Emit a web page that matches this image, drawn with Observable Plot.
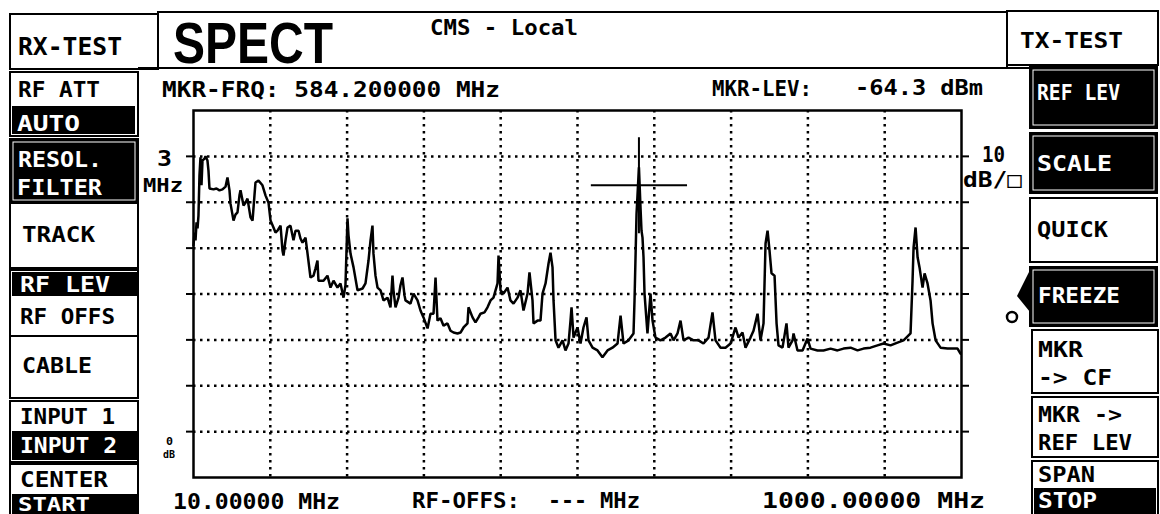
<!DOCTYPE html>
<html><head><meta charset="utf-8">
<script src="https://cdn.jsdelivr.net/npm/d3@7"></script>
<script src="https://cdn.jsdelivr.net/npm/@observablehq/plot@0.6"></script>
<style>html,body{margin:0;padding:0;background:#fff;overflow:hidden}</style>
</head><body><div id="chart"></div>
<script>
// ---- data ----
const freq = [10.0,11.3,12.6,13.9,15.2,16.4,17.7,19.0,20.3,21.6,24.2,25.5,28.0,29.3,30.6,35.8,39.6,43.5,47.4,51.3,53.8,56.4,57.7,61.6,64.1,66.7,69.3,70.6,74.5,77.0,79.6,83.5,86.1,88.6,89.9,93.8,98.9,102.8,106.7,109.3,113.1,115.7,118.3,122.2,124.7,126.0,128.6,131.2,135.0,138.9,141.5,145.4,147.9,150.5,154.4,157.0,160.8,164.7,167.3,169.8,171.1,177.6,182.7,186.6,190.5,195.6,199.5,203.4,205.9,208.5,209.8,212.4,216.3,221.4,227.9,231.7,235.6,238.2,240.7,242.0,244.6,247.2,251.1,254.9,260.1,263.9,266.5,267.8,270.4,274.3,276.8,279.4,282.0,283.3,289.7,293.6,298.8,302.6,306.5,311.7,315.5,319.4,322.0,324.5,328.4,332.3,337.4,341.3,345.2,350.3,354.2,358.1,363.2,364.5,369.7,373.5,377.4,380.0,385.1,389.0,392.9,396.7,401.9,403.2,405.8,409.6,414.8,418.6,422.5,427.7,431.5,435.4,440.6,443.1,447.0,448.3,453.5,457.3,459.9,463.8,467.6,470.2,472.8,474.1,476.7,480.5,485.7,489.5,493.4,496.0,497.3,499.9,505.0,508.9,512.7,516.6,519.2,524.4,530.8,537.2,543.7,550.1,556.6,560.5,564.3,570.8,577.2,578.5,581.1,584.2,586.2,587.5,588.8,590.1,591.4,595.2,599.1,601.7,605.5,612.0,618.5,624.9,628.8,633.9,637.8,641.7,648.1,654.6,661.0,667.4,673.9,679.0,682.9,689.4,695.8,702.3,708.7,712.6,717.7,721.6,728.0,731.9,737.1,740.9,744.8,747.4,750.0,752.5,755.1,759.0,761.6,764.1,769.3,774.4,777.0,782.2,783.5,788.6,795.1,801.5,805.4,814.4,822.1,831.2,840.2,847.9,857.0,866.0,873.7,882.7,891.7,899.5,908.5,917.5,925.3,934.3,936.9,938.2,940.8,943.4,945.9,949.8,952.4,956.2,960.1,962.7,966.6,973.0,982.0,994.9,998.7];
const level = [-77.4,-74.6,-76.3,-72.4,-73.7,-70.9,-62.2,-58.2,-64.3,-58.9,-58.5,-58.0,-58.9,-61.1,-65.0,-65.2,-65.0,-65.4,-65.2,-64.6,-62.6,-65.4,-68.3,-72.0,-70.7,-70.2,-66.5,-65.4,-68.7,-68.1,-67.2,-71.3,-72.0,-66.5,-63.7,-63.3,-64.3,-66.5,-68.1,-72.0,-73.5,-74.6,-74.2,-73.1,-78.5,-79.6,-76.3,-73.5,-73.1,-76.3,-74.2,-74.2,-75.9,-76.8,-75.7,-79.2,-84.4,-84.0,-82.4,-80.7,-85.1,-85.1,-84.0,-86.6,-85.1,-86.6,-85.7,-88.8,-86.1,-71.5,-75.2,-79.2,-82.2,-87.2,-86.8,-85.7,-80.7,-76.3,-73.1,-79.2,-84.0,-86.6,-87.2,-89.4,-88.8,-90.9,-84.0,-87.2,-90.9,-88.8,-86.1,-84.4,-88.3,-89.4,-90.1,-87.9,-89.4,-91.6,-93.1,-95.5,-92.3,-92.3,-84.4,-93.8,-93.3,-94.9,-94.4,-96.0,-96.4,-96.6,-96.4,-95.3,-94.4,-90.9,-93.1,-94.2,-93.1,-92.3,-92.0,-90.9,-89.4,-88.8,-85.7,-79.6,-87.2,-87.9,-86.6,-89.4,-90.1,-88.8,-87.2,-91.6,-87.9,-83.3,-89.4,-94.4,-93.8,-93.8,-87.9,-85.7,-81.4,-79.0,-82.2,-89.4,-98.1,-99.7,-98.1,-100.3,-98.8,-93.8,-90.9,-97.5,-95.3,-98.8,-95.3,-93.1,-98.1,-99.7,-100.3,-101.8,-100.3,-99.7,-98.8,-92.7,-98.8,-98.1,-96.6,-89.4,-70.5,-60.4,-69.1,-74.2,-75.7,-80.0,-87.9,-96.6,-87.9,-93.8,-97.5,-98.1,-97.5,-96.6,-98.1,-96.6,-93.8,-98.1,-97.5,-98.1,-98.1,-98.8,-97.5,-92.0,-98.1,-99.7,-99.7,-98.8,-95.3,-97.5,-96.4,-99.7,-97.5,-96.0,-92.3,-98.1,-94.4,-77.0,-74.2,-78.5,-83.5,-84.0,-94.4,-99.2,-99.7,-94.4,-99.7,-98.1,-96.6,-100.3,-100.3,-97.7,-99.9,-100.3,-100.3,-99.9,-100.3,-99.9,-99.7,-100.3,-99.9,-99.7,-99.2,-98.8,-99.2,-98.6,-98.1,-96.6,-85.1,-77.9,-73.5,-80.0,-82.2,-86.6,-83.5,-85.7,-89.4,-94.4,-98.1,-99.7,-99.9,-99.9,-101.0];
const freqTicks = [109, 208, 307, 406, 505, 604, 703, 802, 901];
const levelTicks = [-118, -108, -98, -88, -78, -68, -58];
const markerFreq = 584.2;
const markerLevel = -64.3;
const leftButtons = ["RF ATT","AUTO","RESOL.","FILTER","TRACK","RF LEV","RF OFFS","CABLE","INPUT 1","INPUT 2","CENTER","START"];
const rightButtons = ["REF LEV","SCALE","QUICK","FREEZE","MKR","-> CF","MKR ->","REF LEV","SPAN","STOP"];
const headerTexts = ["RX-TEST","SPECT","CMS - Local","TX-TEST"];
const infoTexts = ["MKR-FRQ: 584.200000 MHz","MKR-LEV:","-64.3 dBm","10.00000 MHz","RF-OFFS:","---","MHz","1000.00000 MHz","3","MHz","10","dB/\u25A1","0","dB"];

const trace = freq.map((f, i) => ({f, v: level[i]}));

const plot = Plot.plot({
  width: 1160, height: 514,
  marginLeft: 193, marginRight: 199, marginTop: 110, marginBottom: 37,
  x: {domain: [10, 1000], axis: null},
  y: {domain: [-128, -48], axis: null},
  style: {background: "white"},
  marks: [
    Plot.gridY(levelTicks, {stroke: "black", strokeOpacity: 1, strokeWidth: 2.5, strokeDasharray: "2.5,4.5"}),
    Plot.gridX(freqTicks, {stroke: "black", strokeOpacity: 1, strokeWidth: 2.5, strokeDasharray: "2.5,4.5"}),
    Plot.axisY(levelTicks, {anchor: "left", tickSize: 7, tickFormat: () => "", label: null, strokeWidth: 2}),
    Plot.axisY(levelTicks, {anchor: "right", tickSize: 7, tickFormat: () => "", label: null, strokeWidth: 2}),
    Plot.frame({stroke: "black", strokeWidth: 2.5}),
    Plot.line(trace, {x: "f", y: "v", stroke: "black", strokeWidth: 2.5, strokeLinejoin: "miter"}),
    Plot.dot([{f: markerFreq, v: markerLevel}], {x: "f", y: "v", symbol: "plus", r: 31, stroke: "black", strokeWidth: 2})
  ]
});
document.getElementById("chart").appendChild(plot);

// ---- instrument screen chrome ----
const svg = d3.select(plot);
const g = svg.append("g").attr("text-anchor", "start");
const MONO = "'DejaVu Sans Mono', monospace";
function box(x, y, w, h, filled) {
  g.append("rect").attr("x", x).attr("y", y).attr("width", w).attr("height", h)
    .attr("fill", filled ? "black" : "none").attr("stroke", "black").attr("stroke-width", 2);
  if (filled && h > 40) {
    g.append("rect").attr("x", x + 3).attr("y", y + 3).attr("width", w - 6).attr("height", h - 6)
      .attr("fill", "none").attr("stroke", "white").attr("stroke-width", 1);
  }
}
function bar(x, y, w, h) {
  g.append("rect").attr("x", x).attr("y", y).attr("width", w).attr("height", h).attr("fill", "black");
}
function txt(s, x, base, len, size, fill, family, weight) {
  g.append("text").attr("x", x).attr("y", base).text(s)
    .attr("text-anchor", "start")
    .attr("font-family", family || MONO).attr("font-weight", weight || "bold")
    .attr("font-size", size).attr("fill", fill || "black")
    .attr("textLength", len).attr("lengthAdjust", "spacingAndGlyphs");
}

// header
box(10, 14, 148, 55, false);
box(158, 12, 849, 56, false);
box(1007, 11, 151, 54, false);
g.append("line").attr("x1", 138).attr("x2", 1030).attr("y1", 68).attr("y2", 68).attr("stroke", "black").attr("stroke-width", 2);
txt(headerTexts[0], 18, 55, 104, 24);
txt(headerTexts[1], 173, 63, 160, 57, "black", "'Liberation Sans', Arial, sans-serif", "bold");
txt(headerTexts[2], 430, 35, 148, 21);
txt(headerTexts[3], 1020, 48, 103, 22);

// left column
box(10, 72, 128, 64, false); bar(12, 106, 123, 28);
box(10, 139, 128, 64, true);
box(10, 203, 128, 65, false);
box(10, 270, 128, 66, false); bar(12, 272, 125, 24);
box(10, 336, 128, 62, false);
box(10, 401, 128, 61, false); bar(12, 431, 125, 29);
box(10, 464, 128, 52, false); bar(12, 494, 125, 20);
const L = [[18,97,82,"black",21],[17,131,63,"white",21],[18,167,84,"white",21],[17,195,85,"white",21],[22,242,73,"black",21],
           [20,292,90,"white",21],[20,324,95,"black",21],[22,373,70,"black",21],[20,424,95,"black",21],[20,453,97,"white",21],
           [20,487,88,"black",21],[18,511,72,"white",19]];
leftButtons.forEach((s, i) => txt(s, L[i][0], L[i][1], L[i][2], L[i][4], L[i][3]));

// right column
box(1030, 67, 127, 61, true);
box(1030, 133, 127, 60, true);
box(1030, 198, 127, 64, false);
box(1030, 267, 127, 59, true);
box(1032, 330, 126, 63, false);
box(1032, 397, 126, 60, false);
box(1032, 461, 126, 55, false); bar(1034, 488, 122, 26);
const R = [[1037,100,83,"white"],[1037,171,75,"white"],[1037,237,71,"black"],[1038,303,82,"white"],
           [1038,357,45,"black"],[1038,385,74,"black"],[1038,422,84,"black"],[1038,450,94,"black"],
           [1038,482,57,"black"],[1038,508,59,"white"]];
rightButtons.forEach((s, i) => txt(s, R[i][0], R[i][1], R[i][2], 21, R[i][3]));
g.append("path").attr("d", "M1030,270 L1017,296 L1030,312 Z").attr("fill", "black");
g.append("circle").attr("cx", 1012).attr("cy", 317).attr("r", 5).attr("fill", "white").attr("stroke", "black").attr("stroke-width", 2.5);

// readouts and scale labels
txt(infoTexts[0], 162, 97, 338, 21);
txt(infoTexts[1], 712, 96, 100, 21);
txt(infoTexts[2], 855, 95, 128, 21);
txt(infoTexts[3], 173, 509, 167, 21);
txt(infoTexts[4], 412, 508, 108, 21);
txt(infoTexts[5], 548, 508, 39, 21);
txt(infoTexts[6], 600, 508, 40, 21);
txt(infoTexts[7], 762, 508, 223, 21);
txt(infoTexts[8], 157, 166, 15, 21);
txt(infoTexts[9], 143, 192, 40, 20);
txt(infoTexts[10], 982, 162, 23, 21);
txt(infoTexts[11], 963, 187, 59, 21, "black", "'DejaVu Sans Mono', 'DejaVu Sans', monospace");
txt(infoTexts[12], 166, 445, 7, 11);
txt(infoTexts[13], 163, 458, 12, 10);
</script></body></html>
